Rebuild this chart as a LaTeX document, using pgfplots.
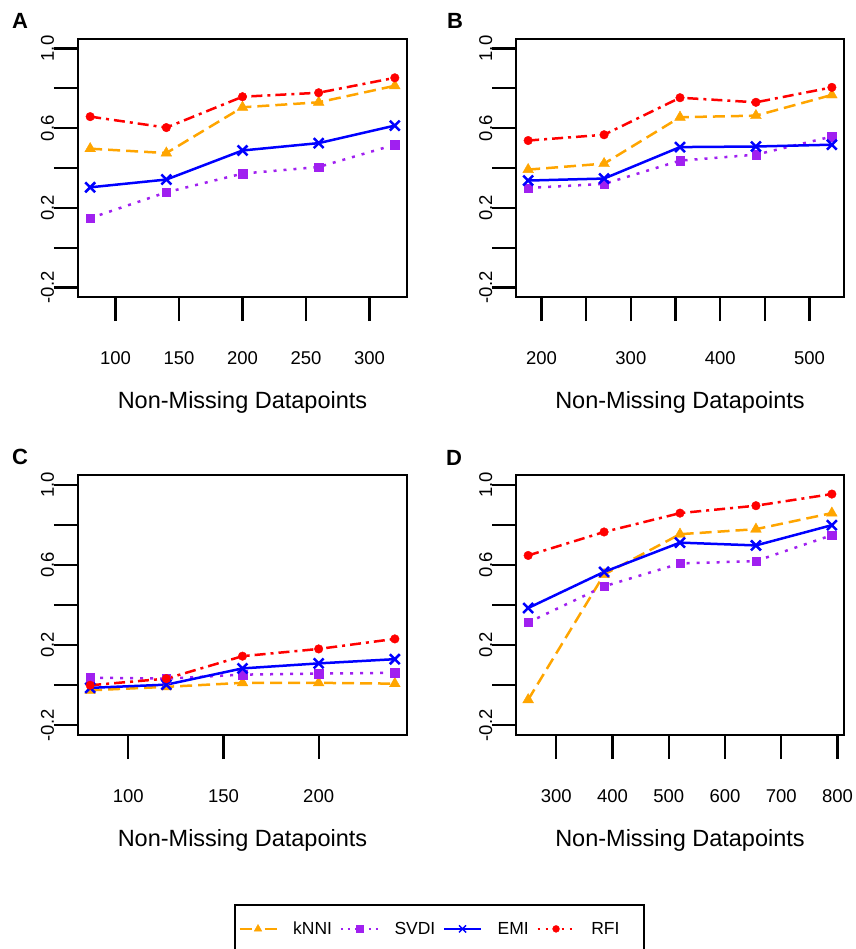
\documentclass[border=0pt]{standalone}
\usepackage{fontspec}
\setmainfont{Liberation Sans}
\usepackage{pgfplots}
\pgfplotsset{compat=1.18}
\definecolor{cK}{HTML}{FFA500}
\definecolor{cS}{HTML}{A020F0}
\definecolor{cE}{HTML}{0000FF}
\definecolor{cR}{HTML}{FF0000}
\newcommand\tickfont{\fontsize{18.5}{22}\selectfont}
\newcommand\labfont{\fontsize{23.5}{28}\selectfont}
\newcommand\legfont{\fontsize{17.5}{21}\selectfont}
\newcommand\letfont{\fontsize{22}{26}\selectfont\bfseries}
\pgfplotsset{
  panel/.style={
    scale only axis, anchor=south west, width=329pt,
    ymin=-0.248, ymax=1.048,
    ytick={-0.2,0,0.2,0.4,0.6,0.8,1.0},
    yticklabels={-0.2,,0.2,,0.6,,1.0},
    xtick pos=left, ytick pos=left,
    tick align=outside, major tick length=24pt,
    every tick/.style={black, line width=2.2pt},
    axis line style={line width=2.2pt},
    /pgf/number format/assume math mode=true,
    /pgf/number format/1000 sep={},
    xticklabel style={font=\tickfont, anchor=center, yshift=-37pt},
    yticklabel style={font=\tickfont, rotate=90, anchor=base, inner sep=0pt},
    xlabel={Non-Missing Datapoints},
    xlabel style={font=\labfont, at={(axis description cs:0.5,0)}, anchor=center, yshift=-105pt},
    clip=false,
  },
  kS/.style={cK, line width=2.5pt, dash pattern=on 12pt off 6pt, mark=triangle*, mark size=6.2pt, mark options={solid, line width=0.4pt}},
  sS/.style={cS, line width=2.5pt, dash pattern=on 3pt off 7pt, mark=square*, mark size=4.2pt, mark options={solid, line width=0.4pt}},
  eS/.style={cE, line width=2.5pt, mark=x, mark size=7pt, mark options={solid, line width=2.5pt}},
  rS/.style={cR, line width=2.5pt, dash pattern=on 11pt off 5pt on 3pt off 5pt, mark=*, mark size=4.3pt, mark options={solid, line width=0.4pt}},
}
\begin{document}
\begin{tikzpicture}
\useasboundingbox (0pt,0pt) rectangle (855pt,-949pt);
\node[font=\letfont] at (20pt,-21pt) {A};
\node[font=\letfont] at (455pt,-21pt) {B};
\node[font=\letfont] at (20pt,-457pt) {C};
\node[font=\letfont] at (454pt,-458pt) {D};

% Panel A
\begin{axis}[panel, at={(78pt,-297pt)}, height=258pt,
  xmin=70.4, xmax=329.6, xtick={100,150,200,250,300}]
\addplot[kS] coordinates {(80,0.497) (140,0.475) (200,0.705) (260,0.730) (320,0.813)};
\addplot[sS] coordinates {(80,0.148) (140,0.278) (200,0.372) (260,0.405) (320,0.517)};
\addplot[eS] coordinates {(80,0.303) (140,0.342) (200,0.488) (260,0.525) (320,0.613)};
\addplot[rS] coordinates {(80,0.658) (140,0.603) (200,0.758) (260,0.778) (320,0.853)};
\end{axis}

% Panel B
\begin{axis}[panel, at={(516pt,-297pt)}, width=328pt, height=258pt,
  xmin=171.4, xmax=538.6, xtick={200,250,300,350,400,450,500},
  xticklabels={200,,300,,400,,500}]
\addplot[kS] coordinates {(185,0.392) (270,0.422) (355,0.655) (440,0.663) (525,0.767)};
\addplot[sS] coordinates {(185,0.300) (270,0.320) (355,0.437) (440,0.467) (525,0.558)};
\addplot[eS] coordinates {(185,0.337) (270,0.347) (355,0.505) (440,0.508) (525,0.517)};
\addplot[rS] coordinates {(185,0.538) (270,0.567) (355,0.753) (440,0.730) (525,0.805)};
\end{axis}

% Panel C
\begin{axis}[panel, at={(78pt,-735pt)}, height=260pt,
  xmin=73.6, xmax=246.4, xtick={100,150,200},
  legend columns=4,
  legend image code/.code={\draw[mark repeat=2,mark phase=2,#1] plot coordinates {(0pt,0pt) (18.5pt,0pt) (37pt,0pt)};},
  legend style={at={(axis description cs:0.4742,-0.65)}, anchor=north west,
    draw=black, line width=1.6pt, font=\legfont, inner xsep=4pt, inner ysep=17pt,
    nodes={inner sep=0pt},
    /tikz/every odd column/.append style={column sep=16pt},
    /tikz/every even column/.append style={column sep=8pt}},
  legend cell align=left]
\addplot[kS, forget plot] coordinates {(80,-0.025) (120,-0.008) (160,0.012) (200,0.012) (240,0.008)};
\addplot[sS, forget plot] coordinates {(80,0.038) (120,0.033) (160,0.053) (200,0.058) (240,0.062)};
\addplot[eS, forget plot] coordinates {(80,-0.013) (120,0.003) (160,0.084) (200,0.109) (240,0.130)};
\addplot[rS, forget plot] coordinates {(80,0.000) (120,0.033) (160,0.145) (200,0.181) (240,0.231)};
\addlegendimage{cK, line width=1.4pt, dash pattern=on 12pt off 13pt, mark=triangle*, mark size=4.5pt, mark options={solid, line width=0.3pt}}
\addlegendentry{kNNI}
\addlegendimage{cS, line width=1.4pt, dash pattern=on 2pt off 5pt, mark=square*, mark size=3.5pt, mark options={solid, line width=0.3pt}}
\addlegendentry{SVDI}
\addlegendimage{cE, line width=1.4pt, mark=x, mark size=5pt, mark options={solid, line width=1.4pt}}
\addlegendentry{EMI}
\addlegendimage{cR, line width=1.4pt, dash pattern=on 2pt off 6pt, mark=*, mark size=3.5pt, mark options={solid, line width=0.3pt}}
\addlegendentry{\makebox[49pt][l]{RFI}}
\end{axis}

% Panel D
\begin{axis}[panel, at={(516pt,-735pt)}, width=328pt, height=260pt,
  xmin=228.4, xmax=811.6, xtick={300,400,500,600,700,800}]
\addplot[kS] coordinates {(250,-0.072) (385,0.552) (520,0.753) (655,0.778) (790,0.858)};
\addplot[sS] coordinates {(250,0.313) (385,0.493) (520,0.607) (655,0.619) (790,0.748)};
\addplot[eS] coordinates {(250,0.385) (385,0.565) (520,0.711) (655,0.697) (790,0.798)};
\addplot[rS] coordinates {(250,0.647) (385,0.764) (520,0.858) (655,0.895) (790,0.953)};
\end{axis}
\end{tikzpicture}
\end{document}
